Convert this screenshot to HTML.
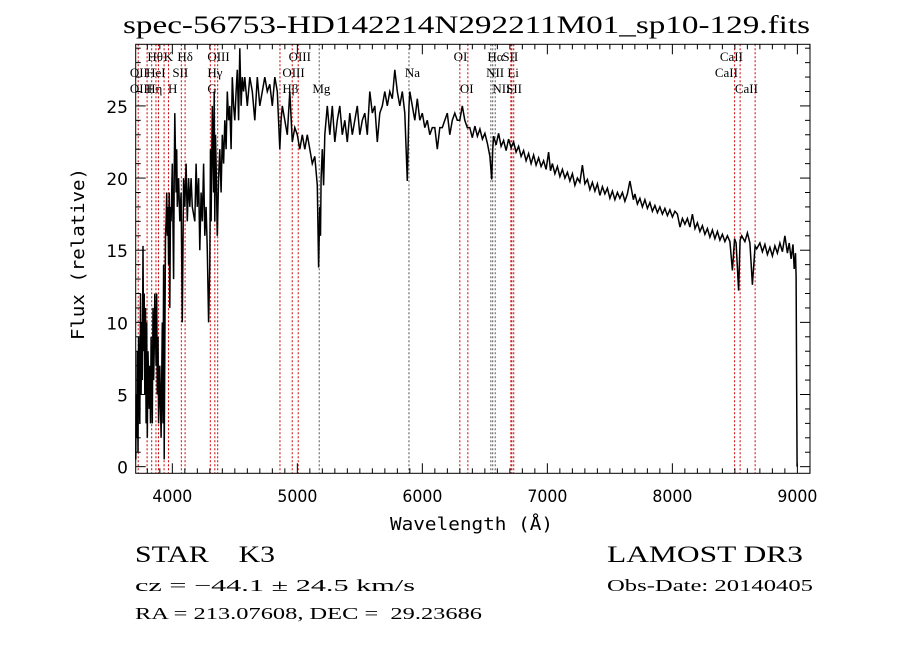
<!DOCTYPE html>
<html><head><meta charset="utf-8"><style>
html,body{margin:0;padding:0;background:#fff;width:900px;height:649px;overflow:hidden}
svg{display:block}
text{white-space:pre}
</style></head><body>
<svg id="chart" width="900" height="649" viewBox="0 0 900 649" xmlns="http://www.w3.org/2000/svg" xml:space="preserve">
<rect x="0" y="0" width="900" height="649" fill="#fff"/>
<text x="123" y="33" font-family="Liberation Serif, serif" font-size="25" textLength="687" lengthAdjust="spacingAndGlyphs">spec-56753-HD142214N292211M01_sp10-129.fits</text>
<g id="lines"></g>
<g id="labels" font-family="Liberation Serif, serif" font-size="13"></g>
<path id="spec" fill="none" stroke="#000" stroke-width="1.5"/>
<rect x="135.7" y="44.3" width="674.3" height="429" fill="none" stroke="#000" stroke-width="1"/>
<g id="ticks" stroke="#000" stroke-width="1"></g>
<g id="ticklabels" font-family="DejaVu Sans, sans-serif" font-size="17"></g>
<text x="390" y="530" font-family="DejaVu Sans Mono, monospace" font-size="18" textLength="163" lengthAdjust="spacingAndGlyphs">Wavelength (Å)</text>
<text transform="translate(84,340) rotate(-90)" font-family="DejaVu Sans Mono, monospace" font-size="18" textLength="172" lengthAdjust="spacingAndGlyphs">Flux (relative)</text>
<text x="135" y="562" font-family="Liberation Serif, serif" font-size="23" textLength="140" lengthAdjust="spacingAndGlyphs">STAR    K3</text>
<text x="607" y="562" font-family="Liberation Serif, serif" font-size="23" textLength="196" lengthAdjust="spacingAndGlyphs">LAMOST DR3</text>
<text x="135" y="591" font-family="Liberation Serif, serif" font-size="17" textLength="280" lengthAdjust="spacingAndGlyphs">cz = −44.1 ± 24.5 km/s</text>
<text x="607" y="591" font-family="Liberation Serif, serif" font-size="17" textLength="206" lengthAdjust="spacingAndGlyphs">Obs-Date: 20140405</text>
<text x="135" y="619" font-family="Liberation Serif, serif" font-size="17" textLength="347" lengthAdjust="spacingAndGlyphs">RA = 213.07608, DEC =  29.23686</text>
</svg>
<script>
const waveBlue = [3708,3710,3715,3720,3725,3730,3740,3745,3750,3755,3760,3765,3770,3775,3780,3785,3790,3795,3800,3805,3810,3815,3820,3825,3830,3840,3845,3850,3855,3860,3870,3875,3880,3885,3890,3900,3910,3920,3925,3930,3935,3940,3945,3950,3955,3960,3965,3970,3975,3980,3985,3990,4000,4010,4015,4020,4030,4035,4040,4050,4060,4070,4080,4090,4100,4110,4120,4130,4140,4150,4160,4180,4190,4200,4210,4220,4230,4240,4250,4260,4270,4280,4290,4300,4305,4310,4320,4330,4335,4340,4345,4350,4360,4370,4380,4390,4400,4410,4420,4430,4440,4450,4460,4470,4480,4490,4500,4510,4520,4530,4540,4550,4560,4570,4580,4600,4620,4640,4660,4680,4700,4720,4740,4760,4780,4800,4820,4840,4860,4870,4880,4900,4920,4940,4960,4980,5000,5020,5040,5060,5080,5100,5120,5140,5160,5170,5180,5185,5190,5200,5210,5220,5240,5260,5280,5300,5320,5340,5360,5380,5400,5420,5440,5460,5480,5500,5520,5540,5560,5580,5600,5620,5640,5660,5680,5700,5720,5740,5760,5780,5800,5820,5840,5860,5880,5893,5900,5920,5940,5960,5980,6000,6020,6040,6060,6080,6100,6120,6140,6160,6180,6200,6220,6240,6260,6280,6300,6320,6340,6360,6380];
const fluxBlue = [0.5,5,2,8,1,9,3,12,5,10,6,15.3,8,12,5,11,3,10,2,8,6,4,7,3,9,3,11,6,8,12,7,12,5,9,3,7,2,10,3,14,0.5,8,16,17,19,16,18,14,19,11,18,17,21,13,20,24.5,19,22,18,20,17,19,10,20,18,21,17,20,18,20,18,17,21,18,20,15,19,17,21,16,18,15,10,14,22,17,25,19,26,17,23,21,16,20,22,19,23,21,24,22,26,24,25,22,27,25,24,26,27.5,24,29,25,27,26,27,25,27,26,24,27,25,26,27,26,26.5,25,27,26,22,24,25,24,23,26,22.5,23.5,23,22,23,22,23,22,21,21.5,19.5,13.8,18,16,20,22,19.5,23,25,23,25,22.5,24,25,23,24,22.5,24.5,23,24,25,23,24,24.5,23,26,24.5,25,22.5,24.5,25,26,25,26,25.5,27.5,26,25,26,24.5,19.8,25,26,25,24,25.5,24,24.5,23.5,24,23,23.5,23.5,22,23.5,23.5,24,24.5,23,24,24.5,24,24,25,24,23.5];
const waveRed = [6400,6420,6440,6460,6480,6500,6520,6540,6555,6563,6570,6590,6610,6630,6650,6670,6690,6710,6730,6750,6770,6790,6810,6830,6850,6870,6890,6910,6930,6950,6970,6990,7010,7025,7040,7060,7080,7100,7120,7140,7160,7180,7200,7220,7240,7260,7280,7300,7320,7340,7360,7380,7400,7420,7440,7460,7480,7500,7520,7540,7560,7580,7600,7620,7640,7660,7688,7700,7720,7740,7760,7780,7800,7820,7840,7860,7880,7900,7920,7940,7960,7980,8000,8020,8040,8061,8080,8100,8120,8140,8160,8181,8200,8220,8240,8260,8280,8300,8320,8340,8360,8380,8400,8420,8440,8460,8480,8498,8510,8530,8542,8555,8580,8600,8620,8640,8662,8675,8700,8720,8740,8760,8780,8800,8820,8840,8860,8880,8900,8920,8935,8950,8965,8975,8985,8990,8995,8998,9000];
const fluxRed = [23.5,22.8,23.6,22.9,23.4,22.7,23.1,22.4,21.5,19.9,22.0,22.9,22.3,23.1,22.2,22.6,21.9,22.7,22.1,22.5,21.8,22.2,21.5,21.9,21.2,21.7,21.0,21.6,20.9,21.4,20.8,21.2,20.6,21.8,20.5,21.0,20.3,20.8,20.1,20.6,20.0,20.4,19.8,20.3,19.5,20.0,19.7,20.9,19.6,19.9,19.2,19.7,19.1,19.6,18.8,19.4,18.9,19.3,18.6,19.1,18.5,19.0,18.6,19.0,18.4,18.9,19.8,18.5,18.9,18.2,18.6,18.0,18.5,17.9,18.3,17.7,18.1,17.6,18.0,17.5,17.9,17.4,17.8,17.3,17.7,17.5,16.6,17.2,16.8,17.2,16.6,17.5,16.5,16.9,16.3,16.7,16.1,16.5,15.9,16.4,15.8,16.3,15.7,16.1,15.6,16.0,15.6,13.6,15.8,15.5,12.2,15.7,16.0,15.6,16.2,15.5,12.6,15.3,15.1,15.5,14.9,15.4,14.7,15.2,14.6,15.3,14.8,15.5,14.9,16.0,14.8,15.5,14.4,15.4,13.7,14.8,13.2,5,0];
const lineWaves = [3727,3798,3835,3869,3889,3934,3969,4072,4102,4304,4340,4363,4861,4959,5007,5175,5893,6300,6364,6548,6563,6583,6708,6716,6731,8498,8542,8662];
const lineDark = [0,0,0,0,0,0,0,0,0,0,0,0,0,0,0,1,1,0,0,1,1,1,0,0,0,0,0,0];
const labelText = ["Hθ","OII","OIII","HeI","Hη","K","H","SII","Hδ","OIII","Hγ","G","OIII","OIII","Hβ","Mg","Na","OI","OI","Hα","SII","NII","Li","NII","SII","CaII","CaII","CaII"];
const labelWave = [3800,3660,3660,3790,3790,3930,3965,4000,4040,4280,4280,4280,4930,4880,4880,5120,5860,6250,6300,6520,6640,6510,6680,6560,6670,8380,8340,8500];
const labelRow = [0,1,2,1,2,0,2,1,0,0,1,2,0,1,2,2,1,0,2,0,0,1,1,2,2,0,1,2];
const xTicks = [4000,5000,6000,7000,8000,9000];
const yTicks = [0,5,10,15,20,25];

const wave = waveBlue.concat(waveRed);
const flux = fluxBlue.concat(fluxRed);
const X0=135.7,X1=810,Y0=473.3,Y1=44.3,WMIN=3707,WMAX=9101,FMIN=-0.46,FMAX=29.27;
function xs(w){return X0+(w-WMIN)/(WMAX-WMIN)*(X1-X0);}
function ys(f){return Y0-(f-FMIN)/(FMAX-FMIN)*(Y0-Y1);}
const NS="http://www.w3.org/2000/svg";
function mk(t,a){const e=document.createElementNS(NS,t);for(const k in a)e.setAttribute(k,a[k]);return e;}

let d="";
for(let i=0;i<wave.length;i++){d+=(i?"L":"M")+xs(wave[i]).toFixed(1)+","+ys(Math.max(flux[i],FMIN)).toFixed(1);}
document.getElementById("spec").setAttribute("d",d);

const lg=document.getElementById("lines");
lineWaves.forEach((w,i)=>{
  const l=mk("line",{x1:xs(w),x2:xs(w),y1:Y1,y2:Y0,stroke:lineDark[i]?"#555":"#c00","stroke-width":1,"stroke-dasharray":"2,2"});
  
  
  lg.appendChild(l);
});
const lb=document.getElementById("labels");
labelText.forEach((t,i)=>{
  const e=mk("text",{x:xs(labelWave[i]),y:61+labelRow[i]*16});
  e.textContent=t;
  
  
  lb.appendChild(e);
});
const tg=document.getElementById("ticks"),tl=document.getElementById("ticklabels");
for(let w=3800;w<=9100;w+=100){
  const maj=w%1000===0,L=maj?10:5;
  tg.appendChild(mk("line",{x1:xs(w),x2:xs(w),y1:Y0,y2:Y0-L}));
  tg.appendChild(mk("line",{x1:xs(w),x2:xs(w),y1:Y1,y2:Y1+L}));
}
for(let f=0;f<=29;f++){
  const L=f%5===0?10:5;
  tg.appendChild(mk("line",{x1:X0,x2:X0+L,y1:ys(f),y2:ys(f)}));
  tg.appendChild(mk("line",{x1:X1,x2:X1-L,y1:ys(f),y2:ys(f)}));
}
xTicks.forEach(v=>{
  const e=mk("text",{x:xs(v),y:502,"text-anchor":"middle",textLength:40,lengthAdjust:"spacingAndGlyphs"});
  e.textContent=v;
  
  
  tl.appendChild(e);
});
yTicks.forEach(v=>{
  const e=mk("text",{x:128,y:ys(v)+7,"text-anchor":"end"});
  e.textContent=v;
  
  
  tl.appendChild(e);
});
</script>
</body></html>
